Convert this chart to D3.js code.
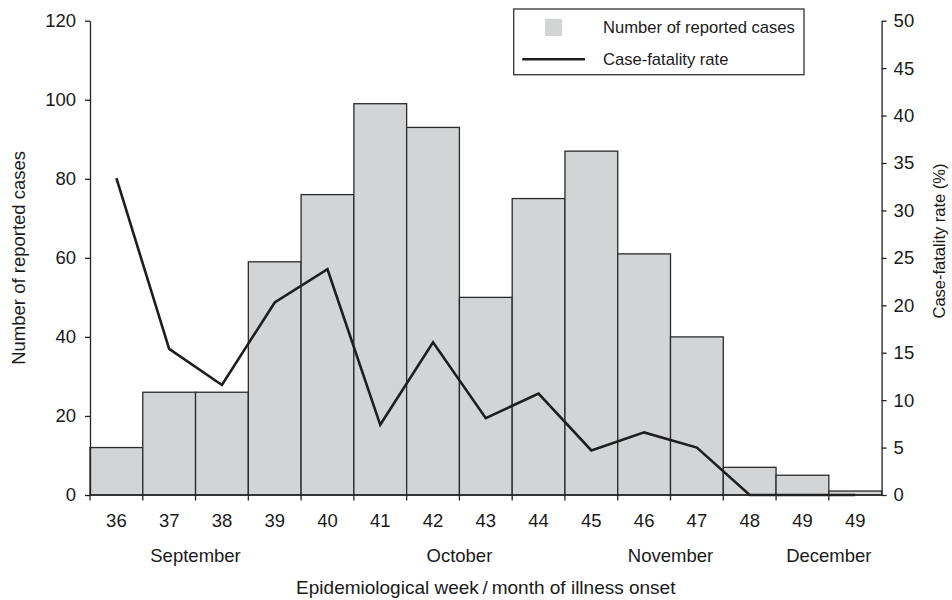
<!DOCTYPE html>
<html>
<head>
<meta charset="utf-8">
<script src="https://cdn.jsdelivr.net/npm/d3@7"></script>
<style>
  html, body { margin: 0; padding: 0; background: #fff; }
  svg { display: block; font-family: "Liberation Sans", Arial, Helvetica, sans-serif; }
</style>
</head>
<body>
<svg id="chart" width="952" height="600"></svg>
<script>
// ---- data ----
const categories = ["36","37","38","39","40","41","42","43","44","45","46","47","48","49","49"];
const cases = [12, 26, 26, 59, 76, 99, 93, 50, 75, 87, 61, 40, 7, 5, 1];
const fatalityRate = [33.4, 15.4, 11.6, 20.3, 23.8, 7.4, 16.1, 8.1, 10.7, 4.7, 6.6, 5.0, 0, 0, 0];
const leftTicks = [0, 20, 40, 60, 80, 100, 120];
const rightTicks = [0, 5, 10, 15, 20, 25, 30, 35, 40, 45, 50];
const months = ["September", "October", "November", "December"];
const monthBoundaryAfter = [1, 6, 10, 13]; // month label centred on right edge of this bar index
const legendLabels = ["Number of reported cases", "Case-fatality rate"];

(function () {
// ---- layout ----
const svg = d3.select("#chart");
const pLeft = 90, pRight = 881.6, pTop = 20.7, pBottom = 495;
const barFill = "#d3d4d6", ink = "#222";

const x = d3.scaleBand().domain(d3.range(categories.length)).range([pLeft, pRight]).padding(0);
const yL = d3.scaleLinear().domain([0, 120]).range([pBottom, pTop]);
const yR = d3.scaleLinear().domain([0, 50]).range([pBottom, pTop]);

// bars
svg.append("g").selectAll("rect").data(cases).join("rect")
  .attr("x", (d, i) => x(i))
  .attr("y", d => yL(d))
  .attr("width", x.bandwidth())
  .attr("height", d => yL(0) - yL(d))
  .attr("fill", barFill)
  .attr("stroke", "#2a2a2a")
  .attr("stroke-width", 1.3);

// line
const line = d3.line()
  .x((d, i) => x(i) + x.bandwidth() / 2)
  .y(d => yR(d));
svg.append("path").datum(fatalityRate)
  .attr("d", line)
  .attr("fill", "none")
  .attr("stroke", "#1e1e1e")
  .attr("stroke-width", 2.6)
  .attr("stroke-linejoin", "miter");

// left axis
const gL = svg.append("g").attr("transform", `translate(${pLeft},0)`)
  .call(d3.axisLeft(yL).tickValues(leftTicks).tickSize(5).tickSizeOuter(0).tickPadding(9));
// right axis
const gR = svg.append("g").attr("transform", `translate(${pRight},0)`)
  .call(d3.axisRight(yR).tickValues(rightTicks).tickSize(5).tickSizeOuter(0).tickPadding(7));
// bottom axis: labels at band centres
const gB = svg.append("g").attr("transform", `translate(0,${pBottom})`)
  .call(d3.axisBottom(x).tickFormat(i => categories[i]).tickSize(0).tickSizeOuter(0).tickPadding(19));
// bottom ticks at band edges
const edges = d3.range(categories.length).map(i => x(i));
gB.append("g").selectAll("line").data(edges).join("line")
  .attr("x1", d => d).attr("x2", d => d)
  .attr("y1", 0).attr("y2", 5.5)
  .attr("stroke", ink).attr("stroke-width", 1.3);

[gL, gR, gB].forEach(g => {
  g.selectAll(".domain").attr("stroke", ink).attr("stroke-width", 1.3);
  g.selectAll(".tick line").attr("stroke", ink).attr("stroke-width", 1.3);
  g.selectAll("text").attr("font-size", "18.5px").attr("fill", "#1a1a1a").attr("font-family", null);
});
gB.select(".domain").attr("d", `M${pLeft},0H${pRight}`);

// month labels
svg.append("g").selectAll("text").data(months).join("text")
  .attr("x", (d, i) => x(monthBoundaryAfter[i]) + x.bandwidth())
  .attr("y", 561.5)
  .attr("text-anchor", "middle")
  .attr("font-size", "18.5px")
  .attr("fill", "#1a1a1a")
  .text(d => d);

// axis titles
svg.append("text")
  .attr("x", (pLeft + pRight) / 2).attr("y", 593.5)
  .attr("text-anchor", "middle")
  .attr("font-size", "19px").attr("fill", "#1a1a1a")
  .text("Epidemiological week\u2009/\u2009month of illness onset");

svg.append("text")
  .attr("transform", `translate(25,${(pTop + pBottom) / 2}) rotate(-90)`)
  .attr("text-anchor", "middle")
  .attr("font-size", "18.5px").attr("fill", "#1a1a1a")
  .text("Number of reported cases");

svg.append("text")
  .attr("transform", `translate(945,241) rotate(-90)`)
  .attr("text-anchor", "middle")
  .attr("font-size", "16.5px").attr("fill", "#1a1a1a")
  .text("Case-fatality rate (%)");

// legend
const lg = svg.append("g");
lg.append("rect").attr("x", 513.7).attr("y", 9).attr("width", 290.3).attr("height", 65.7)
  .attr("fill", "#fff").attr("stroke", "#333").attr("stroke-width", 1.3);
lg.append("rect").attr("x", 545).attr("y", 19).attr("width", 17).attr("height", 17).attr("fill", barFill);
lg.append("line").attr("x1", 522.3).attr("x2", 585).attr("y1", 59.3).attr("y2", 59.3)
  .attr("stroke", "#1e1e1e").attr("stroke-width", 2.6);
lg.selectAll("text.lbl").data(legendLabels).join("text").attr("class", "lbl")
  .attr("x", 603).attr("y", (d, i) => 32.5 + i * 32)
  .attr("font-size", "16.6px").attr("fill", "#1a1a1a")
  .text(d => d);
})();
</script>
</body>
</html>
